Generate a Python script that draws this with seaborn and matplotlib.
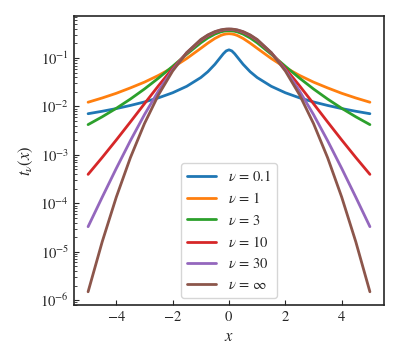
import numpy as np
import pandas as pd
import matplotlib
matplotlib.use("Agg")
import matplotlib.pyplot as plt
import seaborn as sns

# x positions where the curves were read
x = [-5, -4.5, -4, -3.5, -3, -2.5, -2, -1.5, -1, -0.75, -0.5, -0.3, -0.2, -0.1,
     0, 0.1, 0.2, 0.3, 0.5, 0.75, 1, 1.5, 2, 2.5, 3, 3.5, 4, 4.5, 5]

labels = [r"$\nu$ = 0.1", r"$\nu$ = 1", r"$\nu$ = 3", r"$\nu$ = 10",
          r"$\nu$ = 30", r"$\nu$ = $\infty$"]

t_nu01 = [0.00709, 0.00796, 0.00905, 0.0105, 0.0124, 0.0151, 0.0192, 0.0261, 0.0396,
          0.0523, 0.0744, 0.104, 0.123, 0.1405,
          0.1481, 0.1405, 0.123, 0.104, 0.0744, 0.0523, 0.0396, 0.0261, 0.0192, 0.0151,
          0.0124, 0.0105, 0.00905, 0.00796, 0.00709]
t_nu1 = [0.01224, 0.01498, 0.01872, 0.02419, 0.03183, 0.0439, 0.06366, 0.09794, 0.15915,
         0.2037, 0.2546, 0.292, 0.3061, 0.3152,
         0.3183, 0.3152, 0.3061, 0.292, 0.2546, 0.2037, 0.15915, 0.09794, 0.06366, 0.0439,
         0.03183, 0.02419, 0.01872, 0.01498, 0.01224]
t_nu3 = [0.00422, 0.00612, 0.00916, 0.01422, 0.02297, 0.03866, 0.06751, 0.12, 0.2067,
         0.2607, 0.3132, 0.3465, 0.3579, 0.3651,
         0.3676, 0.3651, 0.3579, 0.3465, 0.3132, 0.2607, 0.2067, 0.12, 0.06751, 0.03866,
         0.02297, 0.01422, 0.00916, 0.00612, 0.00422]
t_nu10 = [3.96e-4, 8.84e-4, 0.00203, 0.00478, 0.0114, 0.02694, 0.06114, 0.1274, 0.2304,
          0.288, 0.3397, 0.3704, 0.3807, 0.387,
          0.3891, 0.387, 0.3807, 0.3704, 0.3397, 0.288, 0.2304, 0.1274, 0.06114, 0.02694,
          0.0114, 0.00478, 0.00203, 8.84e-4, 3.96e-4]
t_nu30 = [3.29e-5, 1.334e-4, 5.25e-4, 0.00196, 0.00678, 0.02106, 0.05684, 0.1289, 0.238,
          0.2966, 0.3479, 0.3777, 0.3875, 0.3936,
          0.3956, 0.3936, 0.3875, 0.3777, 0.3479, 0.2966, 0.238, 0.1289, 0.05684, 0.02106,
          0.00678, 0.00196, 5.25e-4, 1.334e-4, 3.29e-5]
t_inf = [1.487e-6, 1.598e-5, 1.338e-4, 8.73e-4, 0.00443, 0.01753, 0.05399, 0.1295, 0.242,
         0.3011, 0.3521, 0.3814, 0.391, 0.397,
         0.3989, 0.397, 0.391, 0.3814, 0.3521, 0.3011, 0.242, 0.1295, 0.05399, 0.01753,
         0.00443, 8.73e-4, 1.338e-4, 1.598e-5, 1.487e-6]

series = [t_nu01, t_nu1, t_nu3, t_nu10, t_nu30, t_inf]
df = pd.concat([pd.DataFrame({"x": x, "t": s, "nu": lab})
                for s, lab in zip(series, labels)], ignore_index=True)

sns.set_style("ticks")
plt.rcParams.update({
    "font.family": "STIXGeneral",
    "mathtext.fontset": "stix",
    "axes.formatter.use_mathtext": True,
    "xtick.direction": "in",
    "ytick.direction": "in",
    "font.size": 10.5,
})

fig = plt.figure(figsize=(4, 3.6), dpi=100)
ax = fig.add_axes([0.185, 0.153, 0.775, 0.803])
sns.lineplot(data=df, x="x", y="t", hue="nu", hue_order=labels,
             palette="tab10", linewidth=2, ax=ax)
ax.set_yscale("log")
ax.set_xlabel("$x$", fontsize=12)
ax.set_ylabel(r"$t_\nu(x)$", fontsize=12)
ax.set_xticks([-4, -2, 0, 2, 4])
for s in ax.spines.values():
    s.set_visible(True)
    s.set_linewidth(1.2)
h, l = ax.get_legend_handles_labels()
ax.legend(h, l, loc="lower center", frameon=True)
fig.savefig("out.png", dpi=100)
